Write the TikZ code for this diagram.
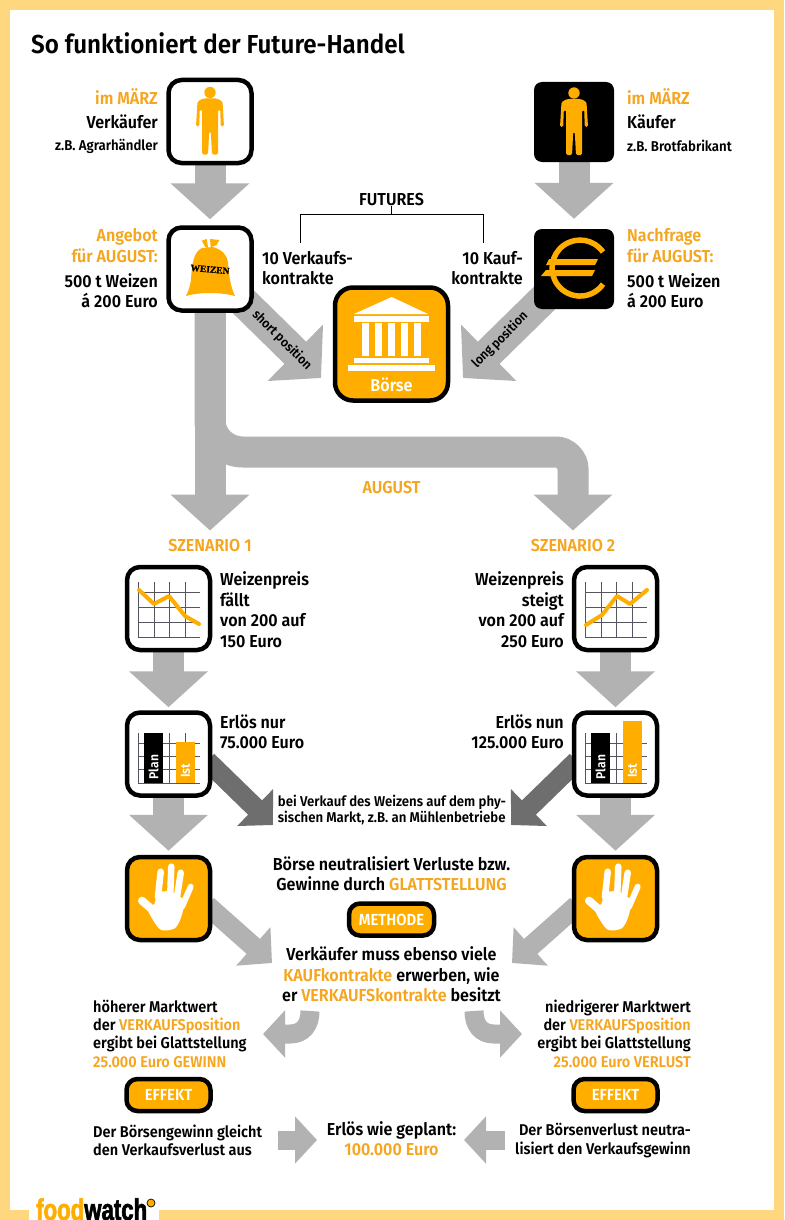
\documentclass[tikz,border=0pt]{standalone}
\usepackage{fontspec}
\setmainfont{Fira Sans SemiBold}[FakeStretch=0.93]
\newfontfamily\logofont{Liberation Sans Bold}[FakeStretch=0.74,FakeBold=2]
\newfontfamily\sackfont{Liberation Serif Bold}[FakeBold=1]
\usetikzlibrary{positioning,arrows.meta,backgrounds}
\definecolor{frameYellow}{HTML}{FFD77F}
\definecolor{markOrange}{HTML}{FFAE00}
\definecolor{wordOrange}{HTML}{F5A51E}
\definecolor{arrowGray}{HTML}{B2B2B2}
\definecolor{arrowDark}{HTML}{6E6E6E}
\definecolor{gridGray}{HTML}{55555F}
\newcommand{\hl}[1]{\textcolor{wordOrange}{#1}}
\tikzset{
  person/.pic={
    \fill (0,-29) circle (5.7);
    \fill[rounded corners=1.5pt] (-7,-23) -- (7,-23) -- (12.5,-20) -- (14,5) -- (10.8,5) -- (10.2,-12) -- (8,-12)
      -- (8,33) -- (2,33) -- (0.8,10) -- (-0.8,10) -- (-2,33) -- (-8,33) -- (-8,-12) -- (-10.2,-12)
      -- (-10.8,5) -- (-14,5) -- (-12.5,-20) -- cycle;
  },
  pricegrid/.pic={
    \foreach \gx in {-30.5,-14.5,0.5,16.5} \draw[gridGray, line width=1pt] (\gx,-26.5) -- (\gx,28.5);
    \foreach \gy in {-16.5,-1.5,13.5,28.5} \draw[gridGray, line width=1pt] (-30.5,\gy) -- (31,\gy);
  },
  bargrid/.pic={
    \foreach \gx in {-30.5,-14.5,0.5,16.5} \draw[gridGray, line width=1pt] (\gx,-21) -- (\gx,29);
    \foreach \gy in {-11,2,15,29} \draw[gridGray, line width=1pt] (-30.5,\gy) -- (31,\gy);
  },
  stophand/.pic={
    \fill[white] plot[smooth cycle] coordinates {(-11.2,-5.2) (1,-7) (15.2,1.5) (12.8,18.2) (6.2,29.8) (-7.2,31.5) (-15.5,21.5) (-20.5,10.8) (-13.8,4.8)};
    \draw[white, line width=6.5pt, line cap=round] (-7.8,-26.8) -- (-10.5,-1.8);
    \draw[white, line width=6.5pt, line cap=round] (2.8,-31.8) -- (1.8,-5);
    \draw[white, line width=6.5pt, line cap=round] (12.2,-25.8) -- (8.8,-3.5);
    \draw[white, line width=6pt, line cap=round] (22.2,-11.8) -- (13.5,8.2);
    \draw[white, line width=8pt, line cap=round] (-26.5,2.2) -- (-13.8,13.2);
  }
}

\begin{document}
\begin{tikzpicture}[x=1pt, y=-1pt,
    framebox/.style={draw, line width=4.5pt, rounded corners=13pt, fill=white, minimum width=83pt, minimum height=83pt, inner sep=0pt},
    blackbox/.style={rounded corners=8pt, fill=black, minimum width=80pt, minimum height=80pt, inner sep=0pt},
    markbox/.style={framebox, fill=markOrange},
    pill/.style={draw, line width=4.5pt, rounded corners=11pt, fill=markOrange, minimum height=32pt, inner sep=0pt, text=white, font=\fontsize{16}{18}\selectfont},
    txt/.style={inner sep=0pt, font=\fontsize{17.3}{20.5}\selectfont},
    note/.style={inner sep=0pt, font=\fontsize{15.6}{18.3}\selectfont},
    small/.style={inner sep=0pt, font=\fontsize{14.2}{16}\selectfont},
    barlabel/.style={inner sep=0pt, text=white, rotate=90, font=\fontsize{13}{15}\selectfont},
    bigarrow/.style={arrowGray, line width=31pt, -{Triangle[length=36pt,width=77pt]}},
    midarrow/.style={arrowGray, line width=20pt, -{Triangle[length=25pt,width=50pt]}},
    darkarrow/.style={midarrow, arrowDark},
    lowarrow/.style={arrowGray, line width=19pt, -{Triangle[length=22pt,width=46pt]}}]

  \useasboundingbox (0,0) rectangle (784,1220);

  % boxes
  \node[framebox] (seller) at (210,121.5) {};
  \node[blackbox] (buyer) at (574,122) {};
  \node[framebox] (offer) at (210,269) {};
  \node[blackbox] (euro) at (574,269) {};
  \node[markbox, rounded corners=18pt, minimum width=113pt, minimum height=113pt] (exchange) at (391.5,344) {};
  \node[framebox] (priceA) at (168.5,608.5) {};
  \node[framebox] (priceB) at (615.5,608.5) {};
  \node[framebox] (barsA) at (168.5,754) {};
  \node[framebox] (barsB) at (615.5,754) {};
  \node[markbox] (handA) at (168.5,898.5) {};
  \node[markbox] (handB) at (615.5,898.5) {};
  \node[pill, minimum width=85pt] (method) at (391.5,919.5) {METHODE};
  \node[pill, minimum width=84pt] (effectA) at (168.5,1095) {EFFEKT};
  \node[pill, minimum width=84pt] (effectB) at (615.5,1095) {EFFEKT};

  % texts, upper part
  \node[inner sep=0pt, anchor=west, font=\fontsize{26}{30}\selectfont] (title) at (31,43) {So funktioniert der Future-Handel};
  \node[txt, anchor=east, wordOrange] (marchA) at (158,97) {im MÄRZ};
  \node[txt, anchor=east] (sellerName) at (158,122) {Verkäufer};
  \node[small, anchor=east] (sellerHint) at (158,146) {z.B. Agrarhändler};
  \node[txt, anchor=west, wordOrange] (marchB) at (627,97) {im MÄRZ};
  \node[txt, anchor=west] (buyerName) at (627,122) {Käufer};
  \node[small, anchor=west] (buyerHint) at (627,146) {z.B. Brotfabrikant};
  \node[txt, anchor=east, align=right, wordOrange] (supply) at (158,245.5) {Angebot\\für AUGUST:};
  \node[txt, anchor=east, align=right] (supplyAmount) at (158,290.5) {500 t Weizen\\á 200 Euro};
  \node[txt, anchor=west, align=left, wordOrange] (demand) at (627,245.5) {Nachfrage\\für AUGUST:};
  \node[txt, anchor=west, align=left] (demandAmount) at (627,290.5) {500 t Weizen\\á 200 Euro};
  \node[txt] (futures) at (391.5,200) {FUTURES};
  \node[txt, anchor=west, align=left] (sellContracts) at (262,268) {10 Verkaufs-\\kontrakte};
  \node[txt, anchor=east, align=right] (buyContracts) at (523,268) {10 Kauf-\\kontrakte};
  \node[txt, white] (exchangeName) at (391.5,385) {Börse};
  \node[txt, wordOrange] (august) at (391.5,488) {AUGUST};
  \node[txt, wordOrange] (scenarioA) at (210,546) {SZENARIO 1};
  \node[txt, wordOrange] (scenarioB) at (573,546) {SZENARIO 2};

  % texts, scenarios
  \node[txt, anchor=west, align=left] (priceTextA) at (220,609.5) {Weizenpreis\\fällt\\von 200 auf\\150 Euro};
  \node[txt, anchor=east, align=right] (priceTextB) at (564,609.5) {Weizenpreis\\steigt\\von 200 auf\\250 Euro};
  \node[txt, anchor=west, align=left] (revenueA) at (220,732) {Erlös nur\\75.000 Euro};
  \node[txt, anchor=east, align=right] (revenueB) at (564,732) {Erlös nun\\125.000 Euro};
  \node[small, align=left] (market) at (392,810) {bei Verkauf des Weizens auf dem phy-\\sischen Markt, z.B. an Mühlenbetriebe};
  \node[txt, align=center] (hedge) at (391.5,873.5) {Börse neutralisiert Verluste bzw.\\Gewinne durch \hl{GLATTSTELLUNG}};
  \node[txt, align=center] (rule) at (391.5,974.5) {Verkäufer muss ebenso viele\\\hl{KAUFkontrakte} erwerben, wie\\er \hl{VERKAUFSkontrakte} besitzt};
  \node[note, anchor=west, align=left] (gainText) at (93,1033.5) {höherer Marktwert\\der \hl{VERKAUFSposition}\\ergibt bei Glattstellung\\\hl{25.000 Euro GEWINN}};
  \node[note, anchor=east, align=right] (lossText) at (691,1033.5) {niedrigerer Marktwert\\der \hl{VERKAUFSposition}\\ergibt bei Glattstellung\\\hl{25.000 Euro VERLUST}};
  \node[note, anchor=west, align=left] (gainNote) at (93,1140.5) {Der Börsengewinn gleicht\\den Verkaufsverlust aus};
  \node[note, anchor=east, align=right] (lossNote) at (691,1140.5) {Der Börsenverlust neutra-\\lisiert den Verkaufsgewinn};
  \node[txt, align=center] (result) at (391.5,1138.5) {Erlös wie geplant:\\\hl{100.000 Euro}};

  % free ends of the connectors
  \coordinate (shortTip) at (321,378);
  \coordinate (longTip) at (463,378);
  \coordinate (marketTipA) at (273,825);
  \coordinate (marketTipB) at (511,825);
  \coordinate (ruleTipA) at (272,963);
  \coordinate (ruleTipB) at (512,963);
  \coordinate (legA) at (300.5,243);
  \coordinate (legB) at (483,243);
  \coordinate (gainStart) at (310,1011);
  \coordinate (gainTip) at (263,1034);
  \coordinate (lossStart) at (474,1011);
  \coordinate (lossTip) at (522,1034);
  \coordinate (leftOut) at (278,1140);
  \coordinate (leftIn) at (317,1140);
  \coordinate (rightOut) at (505,1140);
  \coordinate (rightIn) at (464,1140);

  \begin{scope}[on background layer]
    \fill[frameYellow] (0,0) rectangle (784,1220);
    \fill[white] (10,10) rectangle (774,1210);
    \fill[white] (29,1205) rectangle (159,1220);
    \draw[bigarrow, shorten >=6pt] (seller.south) -- (offer.north);
    \draw[bigarrow, shorten >=10pt] (buyer.south) -- (euro.north);
    \draw[bigarrow] (offer.center) -- (shortTip);
    \draw[bigarrow] (euro.center) -- (longTip);
    \draw[bigarrow, shorten >=9pt] (offer.south) -- (scenarioA.north -| offer.south);
    \draw[bigarrow, shorten >=9pt] (offer.south) -- (210,420) .. controls (210,438) and (225,452) .. (243,452) -- (556,452)
      .. controls (565,452) and (573,460) .. (573,469) -- (scenarioB.north);
    \draw[bigarrow, shorten >=3pt] (priceA.south) -- (barsA.north);
    \draw[bigarrow, shorten >=3pt] (priceB.south) -- (barsB.north);
    \draw[bigarrow, shorten >=4pt] (barsA.south) -- (handA.north);
    \draw[bigarrow, shorten >=4pt] (barsB.south) -- (handB.north);
    \draw[darkarrow] ([shift={(-5pt,-7pt)}]barsA.east) -- (marketTipA);
    \draw[darkarrow] ([shift={(5pt,-7pt)}]barsB.west) -- (marketTipB);
    \draw[midarrow] ([shift={(-5pt,-7pt)}]handA.east) -- (ruleTipA);
    \draw[midarrow] ([shift={(5pt,-7pt)}]handB.west) -- (ruleTipB);
    \draw[lowarrow] (gainStart) .. controls (310,1025) and (303,1034) .. (290,1034) -- (gainTip);
    \draw[lowarrow] (lossStart) .. controls (474,1025) and (481,1034) .. (494,1034) -- (lossTip);
    \draw[lowarrow] (leftOut) -- (leftIn);
    \draw[lowarrow] (rightOut) -- (rightIn);
  \end{scope}

  \draw[line width=0.9pt] (futures.south) -- ++(0,8) coordinate (forkTop);
  \draw[line width=0.9pt] (legA) |- (forkTop) -| (legB);
  \node[small, rotate=-45, font=\fontsize{13}{14}\selectfont] (shortLabel) at (282,340) {short position};
  \node[small, rotate=45, font=\fontsize{13}{14}\selectfont] (longLabel) at (500,340) {long position};

  % icons
  \pic[markOrange] at (seller) {person};
  \pic[markOrange] at (buyer) {person};
  \fill[markOrange] (202,248) .. controls (194,252) and (192,262) .. (191,280) .. controls (190,287) and (188,292) .. (186,296)
    .. controls (200,292) and (220,292) .. (235,296) .. controls (230,285) and (229,275) .. (228,263)
    .. controls (227,254) and (222,250) .. (213,247) -- cycle;
  \fill[markOrange] (201.7,240.7) -- (206.7,239) -- (208.3,248.3) -- (205,246.7) -- cycle;
  \fill[markOrange] (210,239) -- (219.3,240) -- (216.7,245) -- (210.7,247.3) -- cycle;
  \node[inner sep=0pt, rotate=-5, font=\sackfont\fontsize{9.5}{10}\selectfont] (sackLabel) at (210,269.5) {WEIZEN};

  \draw[markOrange, line width=5.5pt] (603,252) arc[start angle=-35, end angle=-325, radius=28];
  \fill[markOrange] (549,259) -- (598,259) -- (595,265) -- (546,265) -- cycle;
  \fill[markOrange] (546,270) -- (595,270) -- (592,276) -- (541,276) -- cycle;

  \fill[white] (391.7,297) -- (428,314) -- (354,314) -- cycle;
  \fill[white] (354,316) rectangle (429,322);
  \foreach \colx in {361.7,374.7,387.7,400.7,413.7} \fill[white] (\colx,323) rectangle (\colx+7.3,356);
  \fill[white] (354,358) rectangle (429,363);
  \fill[white] (348,365) rectangle (435,371);

  \pic at (priceA) {pricegrid};
  \pic at (priceB) {pricegrid};
  \draw[markOrange, line width=4pt, line join=round, line cap=round] (139,590) -- (154,604) -- (169,596) -- (185,616) -- (199,624);
  \draw[markOrange, line width=4pt, line join=round, line cap=round] (586,625) -- (602,615) -- (617,596) -- (630,604) -- (647,590);

  \pic at (barsA) {bargrid};
  \pic at (barsB) {bargrid};
  \node[fill=black, minimum width=19pt, minimum height=50pt, inner sep=0pt] (planA) at (153.5,758) {};
  \node[fill=markOrange, minimum width=19pt, minimum height=41pt, inner sep=0pt] (realA) at (185.5,762.5) {};
  \node[fill=black, minimum width=19pt, minimum height=50pt, inner sep=0pt] (planB) at (600.5,758) {};
  \node[fill=markOrange, minimum width=19pt, minimum height=62pt, inner sep=0pt] (realB) at (632.5,752) {};
  \node[barlabel] (planLabelA) at (153.5,767) {Plan};
  \node[barlabel] (realLabelA) at (185.5,771) {Ist};
  \node[barlabel] (planLabelB) at (600.5,767) {Plan};
  \node[barlabel] (realLabelB) at (632.5,771) {Ist};

  \pic at (handA) {stophand};
  \pic at (handB) {stophand};

  % logo
  \node[inner sep=0pt, anchor=base west, font=\logofont\fontsize{30}{30}\selectfont] (logo) at (36,1220) {\textcolor{markOrange}{food}watch};
  \node[circle, draw, line width=0.7pt, fill=markOrange, minimum size=8pt, inner sep=0pt] (logoMark) at (151,1203) {};
\end{tikzpicture}
\end{document}
